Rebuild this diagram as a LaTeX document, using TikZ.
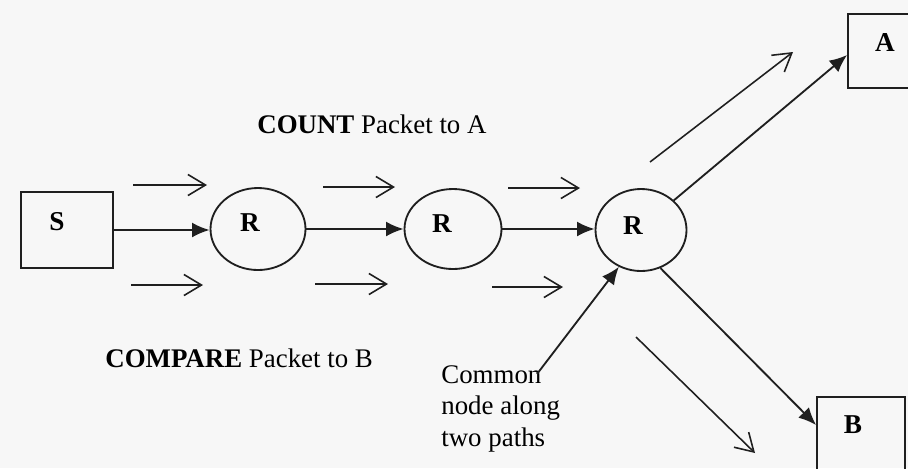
\documentclass[tikz,border=0pt]{standalone}
\usepackage{fontspec}
\setmainfont{Liberation Serif}
\usetikzlibrary{arrows.meta,shapes.geometric,calc}

\tikzset{
  ink/.style={draw=black!88, line width=1.05pt},
  boxnode/.style={ink, rectangle, inner sep=0pt},
  router/.style={ink, ellipse, inner sep=0pt},
  lab/.style={inner sep=0pt, font=\fontsize{15.5}{18}\selectfont\bfseries},
  txt/.style={inner sep=0pt, font=\fontsize{15.3}{18.1}\selectfont},
  link/.style={ink, -{Latex[length=10pt,width=8.5pt]}},
  flow/.style={ink, line width=0.9pt, -{Straight Barb[length=10pt,width=12pt,line width=0.9pt]}},
}

\begin{document}
\begin{tikzpicture}[x=0.02cm, y=-0.02cm]
  % page area
  \useasboundingbox (0,0) rectangle (908,468);
  \fill[white!97!black] (0,0) rectangle (908,468);
  \clip (0,0) rectangle (908,468);

  % source, routers and destinations
  \node[boxnode, minimum width=92*0.02cm, minimum height=76*0.02cm] (S) at (67,230) {};
  \node[lab] (Slab) at (57,222) {S};

  \node[router, minimum width=95*0.02cm, minimum height=82*0.02cm] (r1) at (258,229) {};
  \node[lab] (r1lab) at (250,223) {R};
  \node[router, minimum width=97*0.02cm, minimum height=80*0.02cm] (r2) at (453,229) {};
  \node[lab] (r2lab) at (442,224) {R};
  \node[router, minimum width=91*0.02cm, minimum height=82*0.02cm] (r3) at (641,230) {};
  \node[lab] (r3lab) at (633,226) {R};

  \node[boxnode, minimum width=74*0.02cm, minimum height=74*0.02cm] (A) at (885,51) {};
  \node[lab] (Alab) at (885,43) {A};
  \node[boxnode, minimum width=88*0.02cm, minimum height=80*0.02cm] (B) at (861,437) {};
  \node[lab] (Blab) at (853,425) {B};

  % captions
  \node[txt, anchor=base west] (count) at (257,133) {\textbf{COUNT} Packet to A};
  \node[txt, anchor=base west] (compare) at (105,367) {\textbf{COMPARE} Packet to B};
  \node[txt, anchor=north west, align=left] (common) at (441,365)
    {Common\\node along\\two paths};
  \coordinate (cstart) at (537,374);

  % links between nodes
  \draw[link] (S.east) -- (S.east -| r1.west);
  \draw[link] (r1.east) -- (r1.east -| r2.west);
  \draw[link] (r2.east) -- (r2.east -| r3.west);
  \draw[link] (r3.north east) -- ($(A.west)+(0,4)$);
  \draw[link] (r3.-63) -- ($(B.west)+(0,-12)$);
  \draw[link] (cstart) -- (r3.-121);

  % packet flow indicators
  \draw[flow] (133,185) -- (207,185);
  \draw[flow] (323,187) -- (395,187);
  \draw[flow] (508,188) -- (580,188);
  \draw[flow] (131,285) -- (203,285);
  \draw[flow] (315,284) -- (388,284);
  \draw[flow] (492,287) -- (563,287);
  \draw[flow] (650,162) -- (793,52);
  \draw[flow] (636,337) -- (755,453);
\end{tikzpicture}
\end{document}
